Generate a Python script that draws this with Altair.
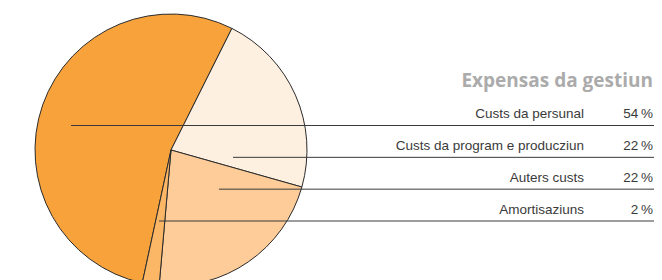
import altair as alt
import pandas as pd
import math

# ---- data ----
labels = ["Custs da persunal", "Custs da program e producziun", "Auters custs", "Amortisaziuns"]
values = [54, 22, 22, 2]
pct_text = ["54\u2009%", "22\u2009%", "22\u2009%", "2\u2009%"]
title_text = "Expensas da gestiun"

# ---- layout / style ----
colors = ["#F8A23C", "#FEF0E0", "#FDCC98", "#FBB666"]
slice_order = [3, 0, 1, 2]          # clockwise order starting at the top-right boundary
row_index = [0, 1, 2, 3]
leader_start = [63, 225, 211, 151]  # where each leader line begins inside the pie (px)
start_angle = math.radians(26.6)

W, H = 646, 272
CX, CY, R = 163, 142, 136
LINE_END = W
LABEL_X = 576
PCT_X = 645
TITLE_X = 645

df = pd.DataFrame({
    "label": labels,
    "value": values,
    "pct": pct_text,
    "order": slice_order,
    "row": row_index,
    "lead": leader_start,
})

color_scale = alt.Scale(domain=labels, range=colors)
row_scale = alt.Scale(domain=[0, 3], range=[117.5, 213])

base = alt.Chart(df)

pie = base.mark_arc(outerRadius=R, stroke="#2b2b2b", strokeWidth=1).encode(
    theta=alt.Theta("value:Q", stack=True,
                    scale=alt.Scale(range=[start_angle, start_angle + 2 * math.pi])),
    order=alt.Order("order:Q"),
    color=alt.Color("label:N", scale=color_scale, legend=None),
    x=alt.value(CX),
    y=alt.value(CY),
)

leaders = base.mark_rule(color="#3a3a3a", strokeWidth=1).encode(
    x=alt.X("lead:Q", scale=alt.Scale(domain=[0, W], range=[0, W]), axis=None),
    x2=alt.value(LINE_END),
    y=alt.Y("row:Q", scale=row_scale, axis=None),
)

label_text = base.mark_text(align="right", baseline="alphabetic", dy=-7.5,
                            font="Liberation Sans", fontSize=13.5, color="#3a3a3a").encode(
    x=alt.value(LABEL_X),
    y=alt.Y("row:Q", scale=row_scale, axis=None),
    text="label:N",
)

pct = base.mark_text(align="right", baseline="alphabetic", dy=-7.5,
                     font="Liberation Sans", fontSize=13.5, color="#3a3a3a").encode(
    x=alt.value(PCT_X),
    y=alt.Y("row:Q", scale=row_scale, axis=None),
    text="pct:N",
)

title = alt.Chart(pd.DataFrame({"t": [title_text]})).mark_text(
    align="right", baseline="alphabetic", font="Open Sans", fontSize=19,
    fontWeight="bold", color="#ABABAB").encode(
    x=alt.value(TITLE_X),
    y=alt.value(78.5),
    text="t:N",
)

chart = alt.layer(pie, leaders, label_text, pct, title).properties(
    width=W, height=H, padding=0, autosize=alt.AutoSizeParams(type="none")
).configure_view(stroke=None)

chart.save("out.html", embed_options={"renderer": "svg", "actions": False})
